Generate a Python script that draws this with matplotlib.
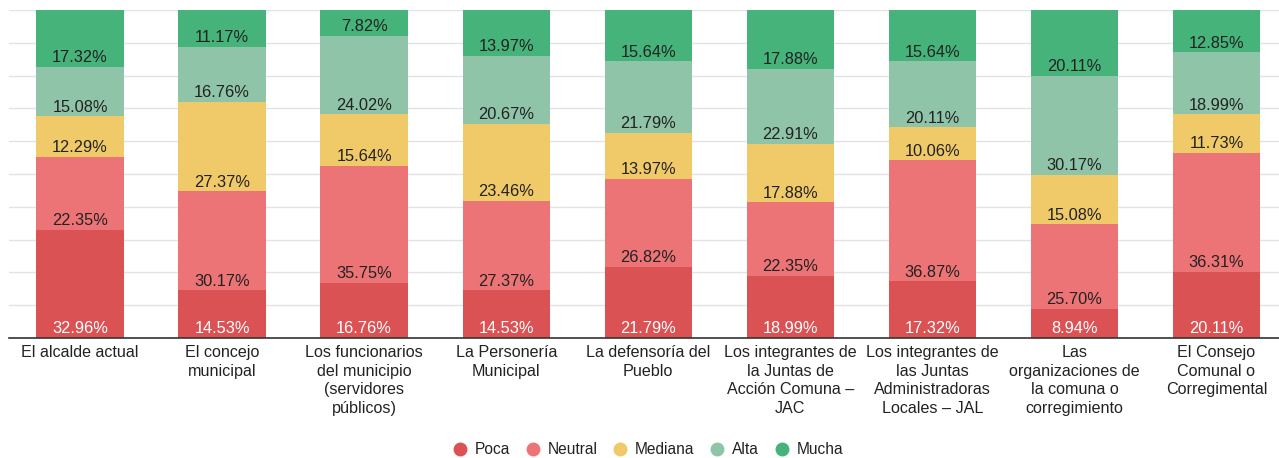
import matplotlib.pyplot as plt
import numpy as np

plt.rcParams['font.family'] = ['Liberation Sans', 'DejaVu Sans']

# categories (tick labels, wrapped as in the chart)
categories = [
    'El alcalde actual',
    'El concejo\nmunicipal',
    'Los funcionarios\ndel municipio\n(servidores\npúblicos)',
    'La Personería\nMunicipal',
    'La defensoría del\nPueblo',
    'Los integrantes de\nla Juntas de\nAcción Comuna –\nJAC',
    'Los integrantes de\nlas Juntas\nAdministradoras\nLocales – JAL',
    'Las\norganizaciones de\nla comuna o\ncorregimiento',
    'El Consejo\nComunal o\nCorregimental',
]

# series values (%)
poca = [32.96, 14.53, 16.76, 14.53, 21.79, 18.99, 17.32, 8.94, 20.11]
neutral = [22.35, 30.17, 35.75, 27.37, 26.82, 22.35, 36.87, 25.70, 36.31]
mediana = [12.29, 27.37, 15.64, 23.46, 13.97, 17.88, 10.06, 15.08, 11.73]
alta = [15.08, 16.76, 24.02, 20.67, 21.79, 22.91, 20.11, 30.17, 18.99]
mucha = [17.32, 11.17, 7.82, 13.97, 15.64, 17.88, 15.64, 20.11, 12.85]

series_names = ['Poca', 'Neutral', 'Mediana', 'Alta', 'Mucha']
series = [poca, neutral, mediana, alta, mucha]
colors = ['#db5254', '#ed7476', '#f0c968', '#8fc4a8', '#45b37a']
label_colors = ['white', '#222222', '#222222', '#222222', '#222222']

fig = plt.figure(figsize=(12.79, 4.58), dpi=100)
ax = fig.add_axes([9 / 1279, 1 - 338 / 458, 1 - 9 / 1279, 328 / 458])

x = np.arange(len(categories))
bottom = np.zeros(len(categories))
handles = []
for name, vals, col, lc in zip(series_names, series, colors, label_colors):
    vals = np.array(vals)
    ax.bar(x, vals, width=0.615, bottom=bottom, color=col, label=name,
           zorder=2, edgecolor='none')
    for xi, b, v in zip(x, bottom, vals):
        ax.annotate(f'{v:.2f}%', (xi, b), xytext=(0, 1.2), textcoords='offset points',
                    ha='center', va='bottom', fontsize=11.8, color=lc, zorder=3)
    bottom = bottom + vals
    handles.append(plt.Line2D([], [], marker='o', linestyle='none', markersize=9,
                              markerfacecolor=col, markeredgecolor=col, label=name))

ax.set_xlim(-0.5, 8.44)
ax.set_ylim(0, 100)
ax.set_yticks(np.arange(0, 101, 10))
ax.set_yticklabels([])
ax.tick_params(axis='y', length=0)
ax.tick_params(axis='x', length=0, pad=5, labelsize=11.6, colors='#222222')
ax.set_xticks(x)
ax.set_xticklabels(categories)
for t in ax.get_xticklabels():
    t.set_linespacing(1.3)
ax.grid(axis='y', color='#e3e3e3', linewidth=1, zorder=0)
for s in ['top', 'right', 'left']:
    ax.spines[s].set_visible(False)
ax.spines['bottom'].set_color('#333333')
ax.spines['bottom'].set_linewidth(1.2)
ax.spines['bottom'].set_zorder(4)

fig.legend(handles=handles, loc='center', bbox_to_anchor=(647 / 1279, 1 - 450 / 458),
           ncol=5, frameon=False, fontsize=11.2, handletextpad=0.35, columnspacing=0.85,
           handlelength=1.2, labelcolor='#222222')

fig.savefig('out.png', dpi=100)
